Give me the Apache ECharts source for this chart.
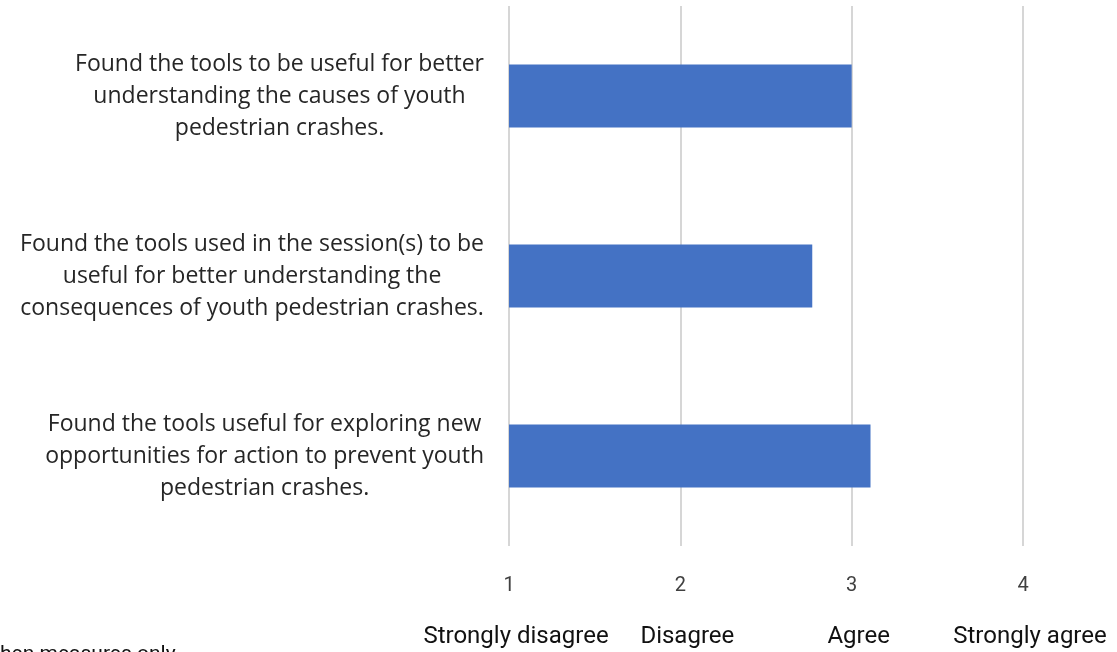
<!DOCTYPE html>
<html><head><meta charset="utf-8">
<script src="https://cdn.jsdelivr.net/npm/echarts@6/dist/echarts.min.js"></script>
<style>html,body{margin:0;padding:0;background:#fff}#c{width:1117px;height:652px}</style>
</head><body><div id="c"></div>
<script>
const categories = [
  "Found the tools to be useful for better\nunderstanding the causes of youth\npedestrian crashes.",
  "Found the tools used in the session(s) to be\nuseful for better understanding the\nconsequences of youth pedestrian crashes.",
  "Found the tools useful for exploring new\nopportunities for action to prevent youth\npedestrian crashes."
];
const values = [3.0, 2.77, 3.11];
const tickLabels = ["1", "2", "3", "4"];
const scaleLabels = ["Strongly disagree", "Disagree", "Agree", "Strongly agree"];
const footnote = "hen measures only";

const chart = echarts.init(document.getElementById('c'), null, {renderer: 'canvas'});
chart.setOption({
  animation: false,
  grid: {left: 509, right: 94, top: 6, bottom: 106, containLabel: false},
  xAxis: [{
    type: 'value', min: 1, max: 4, interval: 1, position: 'bottom',
    axisLine: {show: false}, axisTick: {show: false},
    splitLine: {show: true, lineStyle: {color: '#d6d6d6', width: 2}},
    axisLabel: {margin: 30, fontFamily: 'Roboto', fontSize: 20, color: '#404040',
      formatter: v => tickLabels[Math.round(v) - 1] || ''}
  }, {
    type: 'value', min: 1, max: 4, interval: 1, position: 'bottom', offset: 70,
    axisLine: {show: false}, axisTick: {show: false}, splitLine: {show: false},
    axisLabel: {margin: 9, fontFamily: 'Roboto', fontSize: 24, color: '#111',
      padding: [0, 0, 0, 14],
      formatter: v => scaleLabels[Math.round(v) - 1] || ''}
  }],
  yAxis: {
    type: 'category', data: categories, inverse: true,
    axisLine: {show: false}, axisTick: {show: false},
    axisLabel: {
      margin: 25, align: 'right', color: '#262626', fontFamily: 'Open Sans', fontSize: 23, lineHeight: 32,
      formatter: v => v.split('\n').map(l => '{c|' + l + '}').join('\n'),
      rich: {c: {align: 'center', fontFamily: 'Open Sans', fontSize: 23, lineHeight: 32, color: '#262626'}}
    }
  },
  series: [{
    type: 'bar', data: values, xAxisIndex: 0, barCategoryGap: '65%',
    itemStyle: {color: '#4472C4'}
  }],
  graphic: [{
    type: 'text', left: 0, top: 644,
    style: {text: footnote, fontFamily: 'Roboto', fontSize: 21, fill: '#111'}
  }]
});
</script></body></html>
